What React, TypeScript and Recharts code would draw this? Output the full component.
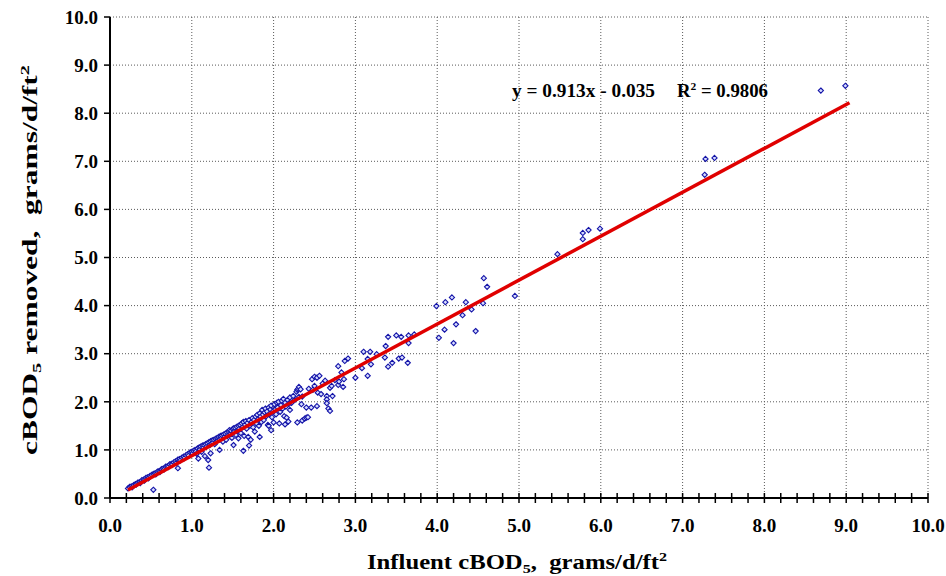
import React from 'react';
import { ScatterChart, Scatter, XAxis, YAxis, ReferenceLine } from 'recharts';

const W = 946;
const H = 576;
const FONT = '"Liberation Serif", "Times New Roman", Times, serif';

// Influent cBOD5 (x) vs cBOD5 removed (y), grams/d/ft2
const lowRange: [number, number][] = [
  [0.22, 0.2], [0.24, 0.23], [0.26, 0.24], [0.27, 0.22], [0.29, 0.27], [0.31, 0.29], [0.32, 0.28],
  [0.34, 0.32], [0.36, 0.33], [0.37, 0.31], [0.39, 0.37], [0.41, 0.38], [0.42, 0.36], [0.44, 0.42],
  [0.46, 0.43], [0.47, 0.41], [0.49, 0.46], [0.51, 0.48], [0.53, 0.17], [0.53, 0.5], [0.55, 0.51],
  [0.56, 0.49], [0.58, 0.55], [0.6, 0.56], [0.61, 0.54], [0.63, 0.6], [0.65, 0.61], [0.66, 0.59],
  [0.68, 0.65], [0.7, 0.66], [0.71, 0.64], [0.73, 0.7], [0.75, 0.71], [0.76, 0.69], [0.78, 0.74],
  [0.8, 0.76], [0.81, 0.73], [0.83, 0.62], [0.83, 0.8], [0.85, 0.81], [0.86, 0.78], [0.88, 0.84],
  [0.9, 0.86], [0.91, 0.83], [0.93, 0.89], [0.95, 0.91], [0.96, 0.88], [0.98, 0.95], [1.0, 0.96],
  [1.01, 0.93], [1.02, 0.98], [1.04, 1.0], [1.05, 0.97], [1.06, 0.92], [1.07, 1.03], [1.08, 0.82],
  [1.09, 1.05], [1.1, 1.01], [1.11, 1.07], [1.12, 0.96], [1.13, 1.09], [1.14, 1.04], [1.15, 1.1],
  [1.16, 0.87], [1.17, 1.12], [1.18, 1.07], [1.19, 1.14], [1.2, 0.79], [1.21, 0.63], [1.21, 1.16],
  [1.22, 1.1], [1.23, 0.93], [1.23, 1.18], [1.24, 1.13], [1.25, 1.2], [1.26, 1.15], [1.27, 1.21],
  [1.28, 1.12], [1.29, 1.23], [1.3, 1.18], [1.31, 1.25], [1.32, 1.2], [1.33, 1.27], [1.34, 1.0],
  [1.34, 1.22], [1.35, 1.29], [1.36, 1.24], [1.37, 1.3], [1.38, 1.17], [1.39, 1.32], [1.4, 1.27],
  [1.41, 1.34], [1.42, 1.21], [1.43, 1.36], [1.44, 1.3], [1.45, 1.38], [1.46, 1.41], [1.47, 1.33],
  [1.48, 1.4], [1.49, 1.25], [1.5, 1.43],
];

const midRange: [number, number][] = [
  [1.51, 1.45], [1.51, 1.1], [1.52, 1.38], [1.53, 1.46], [1.54, 1.31], [1.55, 1.48], [1.56, 1.4],
  [1.57, 1.24], [1.57, 1.5], [1.58, 1.44], [1.59, 1.52], [1.6, 1.35], [1.61, 1.55], [1.62, 1.47],
  [1.63, 0.98], [1.63, 1.58], [1.64, 1.29], [1.65, 1.52], [1.66, 1.6], [1.67, 1.44], [1.68, 1.56],
  [1.69, 1.27], [1.7, 1.09], [1.7, 1.62], [1.71, 1.5], [1.72, 1.21], [1.73, 1.58], [1.74, 1.66],
  [1.75, 1.47], [1.76, 1.62], [1.77, 1.38], [1.78, 1.69], [1.79, 1.55], [1.8, 1.73], [1.81, 1.64],
  [1.82, 1.5], [1.83, 1.27], [1.83, 1.76], [1.84, 1.69], [1.85, 1.58], [1.86, 1.83], [1.87, 1.73],
  [1.88, 1.62], [1.89, 1.78], [1.9, 1.86], [1.91, 1.7], [1.92, 1.8], [1.93, 1.52], [1.94, 1.5],
  [1.94, 1.88], [1.95, 1.75], [1.96, 1.84], [1.97, 1.41], [1.97, 1.92], [1.98, 1.68], [1.99, 1.8],
  [2.0, 1.57], [2.01, 1.95], [2.02, 1.84], [2.03, 1.74], [2.04, 1.98], [2.05, 1.88], [2.06, 2.0],
  [2.07, 1.55], [2.08, 1.79], [2.09, 1.93], [2.1, 2.02], [2.11, 1.86], [2.12, 2.06], [2.13, 1.7],
  [2.14, 1.53], [2.14, 1.98], [2.15, 1.9], [2.16, 1.67], [2.17, 2.04], [2.18, 1.59], [2.19, 1.96],
  [2.2, 1.83], [2.2, 2.09], [2.22, 1.98], [2.24, 2.12], [2.26, 2.04], [2.28, 2.21], [2.29, 1.57],
  [2.29, 2.25], [2.3, 2.27], [2.31, 2.1], [2.31, 2.31],
];

const highRange: [number, number][] = [
  [2.33, 2.26], [2.35, 2.11], [2.35, 1.61], [2.34, 1.95], [2.38, 1.65], [2.4, 1.88], [2.4, 1.67],
  [2.42, 1.68], [2.43, 2.27], [2.46, 1.88], [2.47, 2.47], [2.48, 2.25], [2.5, 2.33], [2.5, 2.52],
  [2.53, 2.5], [2.53, 1.91], [2.54, 2.19], [2.56, 2.54], [2.58, 2.16], [2.6, 2.38], [2.63, 2.44],
  [2.65, 2.12], [2.65, 2.05], [2.65, 1.97], [2.67, 1.86], [2.69, 2.29], [2.69, 1.81], [2.71, 2.33],
  [2.72, 2.12], [2.75, 2.45], [2.79, 2.74], [2.79, 2.35], [2.8, 2.42], [2.83, 2.61], [2.85, 2.31],
  [2.86, 2.47], [2.87, 2.85], [2.91, 2.9], [3.0, 2.5], [3.08, 2.7], [3.1, 3.04], [3.15, 2.89],
  [3.15, 2.54], [3.18, 3.04], [3.19, 2.78], [3.26, 2.99], [3.36, 2.92], [3.37, 3.16], [3.4, 3.35],
  [3.4, 2.73], [3.45, 2.81], [3.5, 3.38], [3.53, 2.9], [3.56, 3.35], [3.57, 2.92], [3.64, 2.81],
  [3.65, 3.38], [3.65, 3.22], [3.72, 3.4],
];

const sparseRange: [number, number][] = [
  [3.99, 3.99], [4.02, 3.33], [4.09, 3.5], [4.1, 4.07], [4.18, 4.17], [4.2, 3.22], [4.23, 3.61],
  [4.31, 3.8], [4.35, 4.07], [4.42, 3.92], [4.47, 3.47], [4.56, 4.05], [4.57, 4.57], [4.61, 4.39],
  [4.95, 4.2], [5.47, 5.07], [5.78, 5.38], [5.78, 5.51], [5.85, 5.57], [5.99, 5.6], [7.27, 6.72],
  [7.28, 7.05], [7.39, 7.07], [8.69, 8.47], [8.99, 8.57],
];

// Linear trendline: y = 0.913x - 0.035
const slope = 0.913;
const intercept = -0.035;
const fitXRange = [0.22, 9.04];

const xMajorTicks = [0, 1, 2, 3, 4, 5, 6, 7, 8, 9, 10];
const yTicks = [0, 1, 2, 3, 4, 5, 6, 7, 8, 9, 10];
const gridValues = [1, 2, 3, 4, 5, 6, 7, 8, 9, 10];
const xAllTicks = Array.from({ length: 51 }, (_, i) => Math.round(i * 2) / 10);

const points = [...lowRange, ...midRange, ...highRange, ...sparseRange].map(([x, y]) => ({ x, y }));
const fitData = fitXRange.map((x) => ({ x, y: slope * x + intercept }));

const Diamond = (props: any) => {
  const { cx, cy } = props;
  if (cx == null || cy == null) return <g />;
  const r = 2.6;
  return (
    <path
      d={`M${cx},${cy - r}L${cx + r},${cy}L${cx},${cy + r}L${cx - r},${cy}Z`}
      fill="#d6dcff"
      stroke="#1414a8"
      strokeWidth={1.1}
    />
  );
};

const XTick = (props: any) => {
  const { x, y, payload } = props;
  const v = payload.value as number;
  const major = xMajorTicks.some((m) => Math.abs(v - m) < 1e-6);
  return (
    <g>
      <line x1={x} x2={x} y1={y - 5} y2={y + 5} stroke="#000" strokeWidth={1.5} />
      {major && (
        <text x={x} y={y + 34} textAnchor="middle" fontFamily={FONT} fontWeight="bold" fontSize={19} fill="#000">
          {v.toFixed(1)}
        </text>
      )}
    </g>
  );
};

export default function App() {
  return (
    <div style={{ position: 'absolute', left: 0, top: 0, width: W, height: H, background: '#fff' }}>
      <ScatterChart width={W} height={H} margin={{ top: 17, right: 18, left: 0, bottom: 0 }}>
        <XAxis
          type="number"
          dataKey="x"
          domain={[0, 10]}
          ticks={xAllTicks}
          interval={0}
          tickLine={false}
          tickSize={0}
          tickMargin={0}
          tick={<XTick />}
          axisLine={{ stroke: '#000', strokeWidth: 2 }}
          height={78}
          allowDataOverflow
        />
        <YAxis
          type="number"
          dataKey="y"
          domain={[0, 10]}
          ticks={yTicks}
          interval={0}
          width={110}
          tickSize={6}
          tickMargin={6}
          tickFormatter={(v: number) => v.toFixed(1)}
          tick={{ fill: '#000', fontSize: 19, fontWeight: 'bold', fontFamily: FONT }}
          tickLine={{ stroke: '#000', strokeWidth: 1.5 }}
          axisLine={{ stroke: '#000', strokeWidth: 2 }}
          allowDataOverflow
        />
        {gridValues.map((v) => (
          <ReferenceLine key={`gx${v}`} x={v} stroke="#5a5a5a" strokeWidth={1} strokeDasharray="1 2" />
        ))}
        {gridValues.map((v) => (
          <ReferenceLine key={`gy${v}`} y={v} stroke="#5a5a5a" strokeWidth={1} strokeDasharray="1 2" />
        ))}
        <Scatter data={points} shape={<Diamond />} isAnimationActive={false} />
        <Scatter
          data={fitData}
          shape={() => <g />}
          line={{ stroke: '#e00000', strokeWidth: 3.5 }}
          lineType="joint"
          isAnimationActive={false}
        />
      </ScatterChart>
      <svg
        width={W}
        height={H}
        style={{ position: 'absolute', left: 0, top: 0, pointerEvents: 'none' }}
        fontFamily={FONT}
        fontWeight="bold"
        fill="#000"
      >
        <text x={512} y={97} fontSize={18} textLength={143} lengthAdjust="spacingAndGlyphs" style={{ whiteSpace: 'pre' }}>
          y = 0.913x - 0.035
        </text>
        <text x={677} y={97} fontSize={18} textLength={91} lengthAdjust="spacingAndGlyphs" style={{ whiteSpace: 'pre' }}>
          R<tspan fontSize={11} dy={-7}>2</tspan>
          <tspan dy={7}> = 0.9806</tspan>
        </text>
        <text
          x={517}
          y={569}
          fontSize={20}
          textAnchor="middle"
          textLength={300}
          lengthAdjust="spacingAndGlyphs"
          style={{ whiteSpace: 'pre' }}
        >
          Influent cBOD<tspan fontSize={13} dy={4}>5</tspan>
          <tspan dy={-4}>,  grams/d/ft</tspan>
          <tspan fontSize={13} dy={-8}>2</tspan>
        </text>
        <text
          transform="rotate(-90)"
          x={-260}
          y={37}
          fontSize={20}
          textAnchor="middle"
          textLength={390}
          lengthAdjust="spacingAndGlyphs"
          style={{ whiteSpace: 'pre' }}
        >
          cBOD<tspan fontSize={13} dy={4}>5</tspan>
          <tspan dy={-4}> removed,  grams/d/ft</tspan>
          <tspan fontSize={13} dy={-8}>2</tspan>
        </text>
      </svg>
    </div>
  );
}
